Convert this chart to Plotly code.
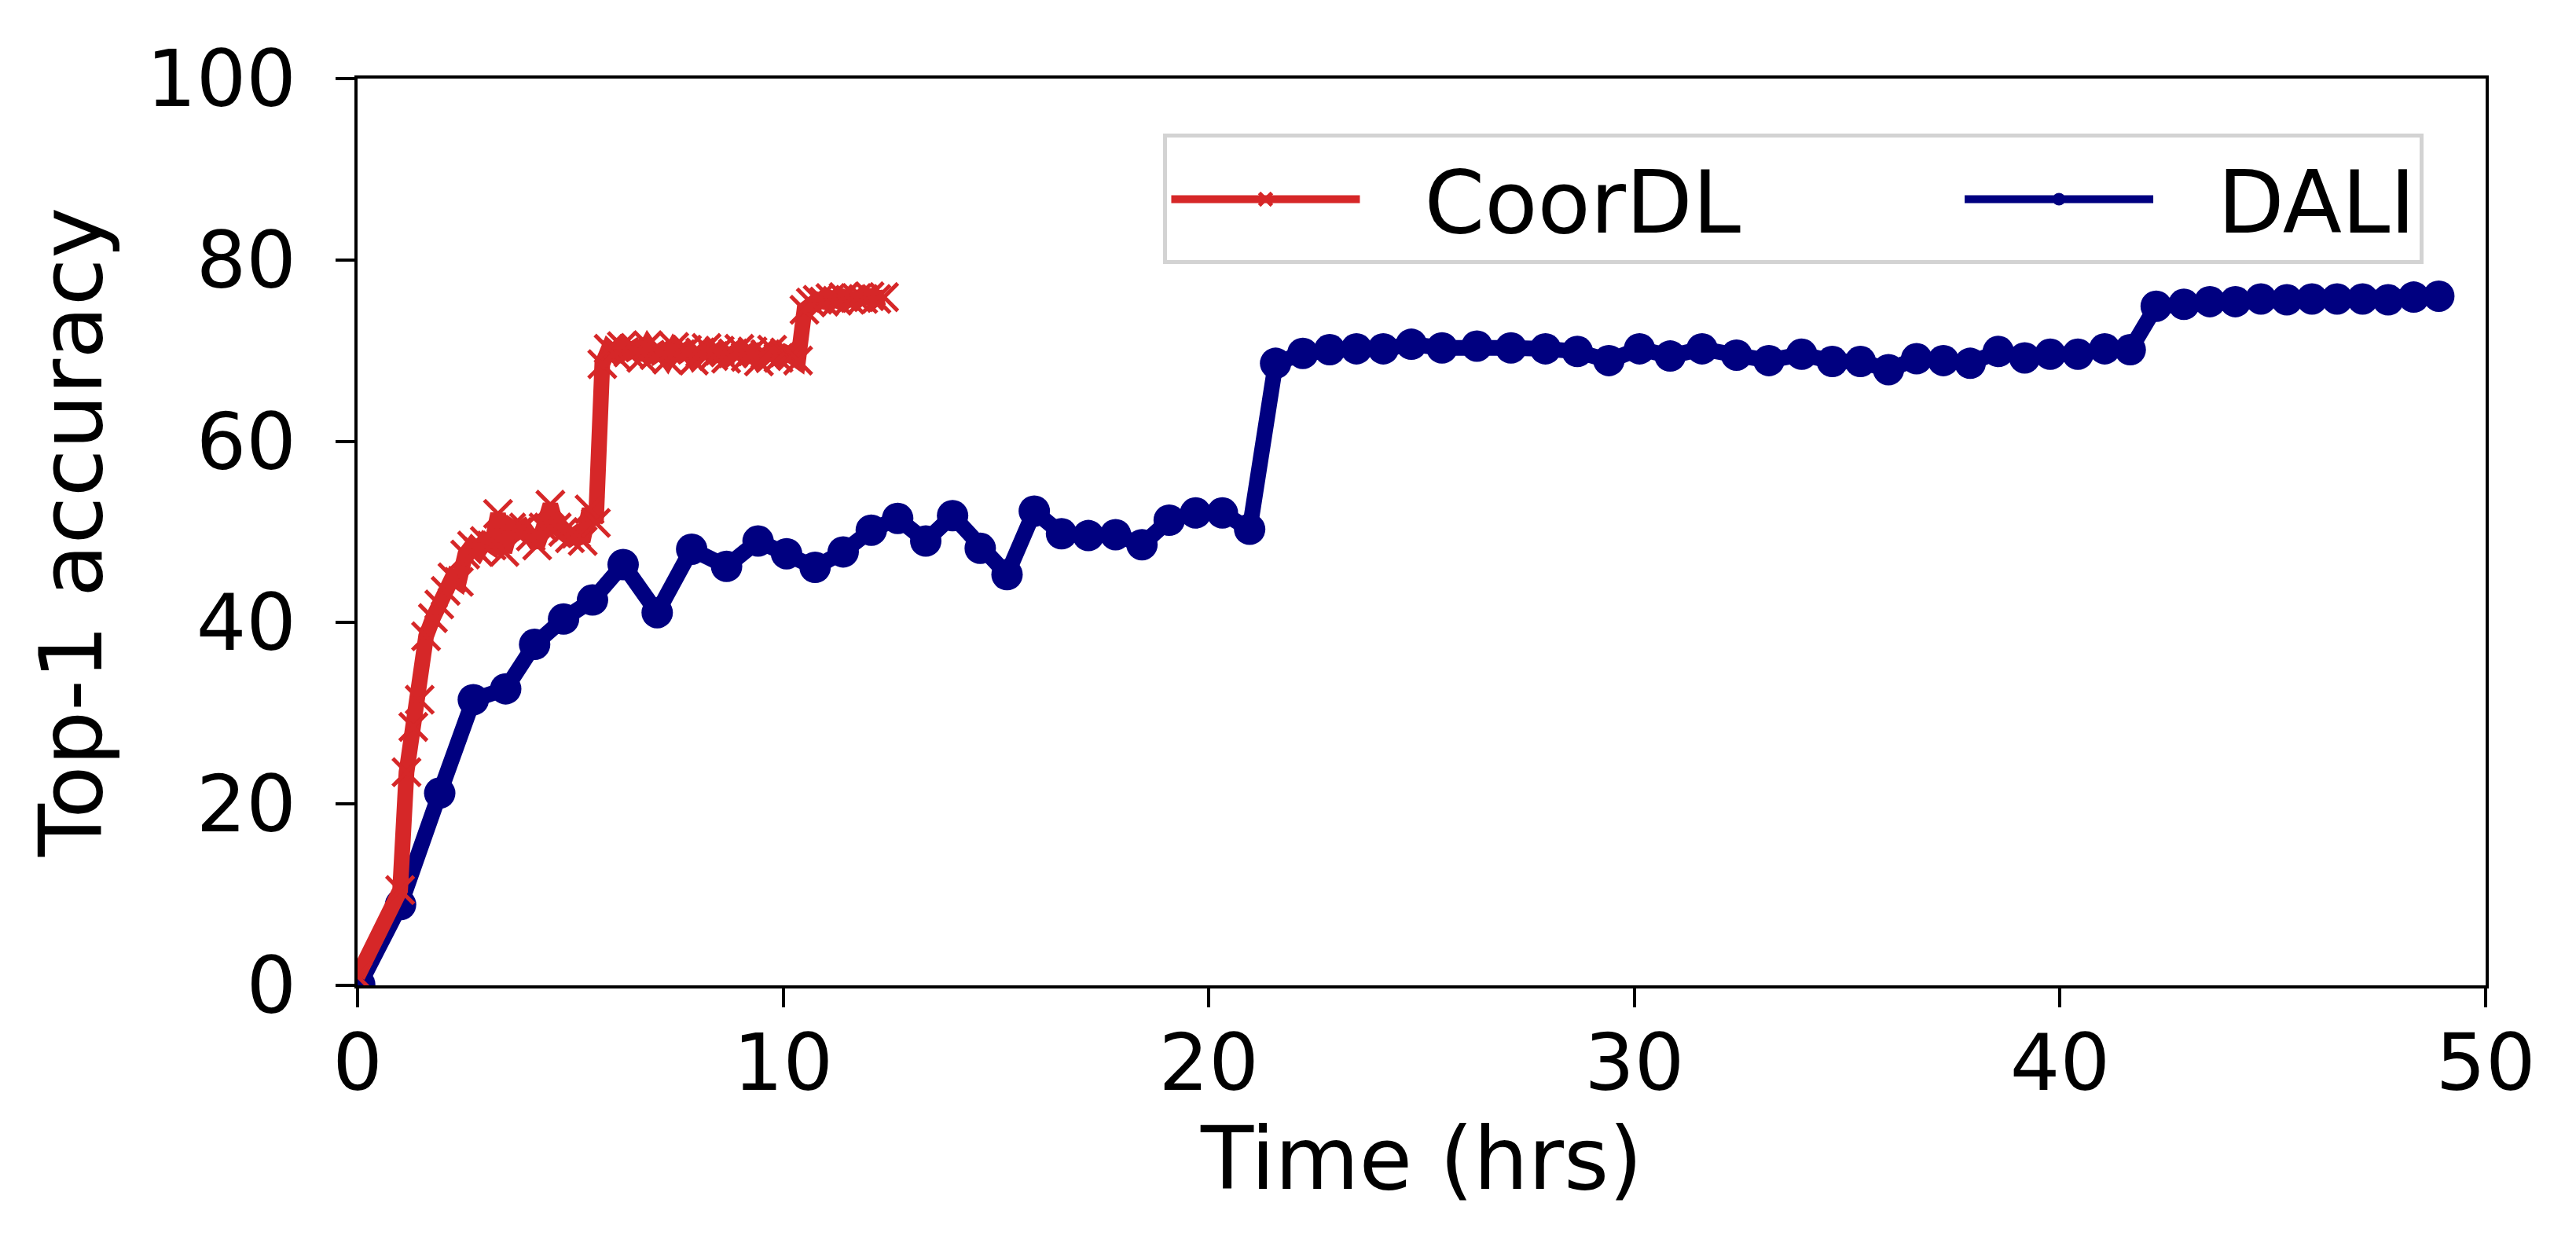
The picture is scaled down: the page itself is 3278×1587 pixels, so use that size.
import plotly.graph_objects as go

# CoorDL: time (hrs) and top-1 accuracy per epoch
coordl_time = [0.0, 1.0, 1.15, 1.31, 1.46, 1.61, 1.77, 1.92, 2.07, 2.23, 2.38,
               2.53, 2.69, 2.84, 2.99, 3.15, 3.3, 3.45, 3.61, 3.76, 3.91,
               4.07, 4.22, 4.37, 4.53, 4.68, 4.83, 4.99, 5.14, 5.29, 5.45, 5.6,
               5.75, 5.9, 6.06, 6.21, 6.36, 6.52, 6.67, 6.82, 6.98, 7.13,
               7.28, 7.44, 7.59, 7.74, 7.9, 8.05, 8.2, 8.36, 8.51, 8.66,
               8.82, 8.97, 9.12, 9.28, 9.43, 9.58, 9.74, 9.89, 10.04, 10.2,
               10.35, 10.5, 10.65, 10.81, 10.96, 11.11, 11.27, 11.42, 11.57,
               11.73, 11.88, 12.03, 12.19, 12.37]
coordl_acc = [1.0, 10.5, 23.5, 28.5, 31.5, 38.5, 40.5, 42.0, 43.5, 45.0, 44.5,
              47.5, 48.5, 47.8, 49.0, 48.5, 52.0, 47.8, 50.5, 50.0, 50.5,
              49.5, 48.5, 50.5, 53.0, 50.5, 50.0, 49.3, 49.8, 49.0, 52.5, 51.0,
              68.5, 70.2, 69.5, 70.5, 69.8, 70.3, 69.2, 70.6, 69.5, 70.0,
              69.0, 70.4, 69.6, 70.1, 68.9, 69.8, 70.3, 69.4, 70.0, 69.1,
              69.7, 70.2, 69.3, 69.9, 68.8, 69.6, 70.1, 69.2, 69.8, 69.4,
              68.9, 74.5, 75.3, 75.6, 75.4, 75.8, 75.5, 75.9, 75.6,
              75.8, 75.7, 76.0, 75.7, 75.9]

# DALI: time (hrs) and top-1 accuracy per epoch
dali_time = [0.05, 1.01, 1.93, 2.72, 3.48, 4.16, 4.84, 5.52, 6.24, 7.04,
             7.85, 8.67, 9.41, 10.08, 10.75, 11.41, 12.07, 12.69, 13.35, 13.98,
             14.63, 15.26, 15.9, 16.54, 17.17, 17.81, 18.43, 19.07, 19.69, 20.32,
             20.96, 21.57, 22.21, 22.84, 23.47, 24.1, 24.76, 25.48, 26.3, 27.1,
             27.91, 28.66, 29.4, 30.12, 30.84, 31.59, 32.4, 33.16, 33.93, 34.65,
             35.31, 35.97, 36.63, 37.26, 37.89, 38.55, 39.17, 39.77, 40.42, 41.05,
             41.65, 42.26, 42.91, 43.52, 44.12, 44.72, 45.33, 45.92, 46.51, 47.11,
             47.71, 48.31, 48.9]
dali_acc = [0.1, 8.9, 21.2, 31.5, 32.7, 37.6, 40.4, 42.5, 46.4, 41.1,
            48.1, 46.2, 49.0, 47.6, 46.1, 47.8, 50.2, 51.5, 49.0, 51.8,
            48.2, 45.3, 52.3, 49.8, 49.6, 49.7, 48.6, 51.3, 52.1, 52.1,
            50.3, 68.6, 69.7, 70.1, 70.2, 70.2, 70.7, 70.3, 70.5, 70.3,
            70.2, 69.9, 68.9, 70.2, 69.4, 70.2, 69.5, 68.9, 69.6, 68.8,
            68.8, 67.9, 69.1, 68.9, 68.6, 69.9, 69.2, 69.6, 69.6, 70.2,
            70.1, 74.9, 75.1, 75.4, 75.4, 75.7, 75.6, 75.7, 75.7, 75.7,
            75.6, 75.9, 76.0]

x_ticks = [0, 10, 20, 30, 40, 50]
y_ticks = [0, 20, 40, 60, 80, 100]

FONT = "DejaVu Sans"
FS = 110       # titles / legend
TICK_FS = 100  # tick labels
SP = '\u2002'  # en space, used to pad legend entries
THIN = '\u2009'

fig = go.Figure()

# DALI goes first so CoorDL is drawn on top, legend order reversed below
fig.add_trace(go.Scatter(
    x=dali_time, y=dali_acc,
    mode='lines+markers',
    name=SP + THIN + 'DALI',
    line=dict(color='#000080', width=20),
    marker=dict(symbol='circle', size=40, color='#000080'),
))
fig.add_trace(go.Scatter(
    x=coordl_time, y=coordl_acc,
    mode='lines+markers',
    name=SP + THIN + 'CoorDL' + SP * 5,
    line=dict(color='#d62728', width=20),
    marker=dict(symbol='x-thin', size=35, color='#d62728',
                line=dict(color='#d62728', width=5)),
))

axis_common = dict(
    showline=True, linecolor='black', linewidth=4, mirror=True,
    ticks='outside', ticklen=24, tickwidth=4, tickcolor='black',
    tickfont=dict(family=FONT, size=TICK_FS, color='black'),
    showgrid=False, zeroline=False,
)

fig.update_layout(
    width=3278, height=1587, autosize=False,
    margin=dict(l=447, r=123, t=92, b=341, pad=0),
    plot_bgcolor='white', paper_bgcolor='white',
    font=dict(family=FONT, size=FS, color='black'),
    xaxis=dict(range=[0, 50], tickvals=x_ticks, ticklabelstandoff=-15,
               title=dict(text='Time (hrs)', font=dict(family=FONT, size=FS), standoff=25),
               **axis_common),
    yaxis=dict(range=[0, 100], tickvals=y_ticks, ticklabelstandoff=30,
               title=dict(text='Top-1 accuracy', font=dict(family=FONT, size=FS), standoff=21),
               **axis_common),
    showlegend=True,
    legend=dict(
        orientation='h', traceorder='reversed',
        x=0.971, xanchor='right', y=0.867, yanchor='middle',
        bgcolor='white', bordercolor='#d3d3d3', borderwidth=5,
        font=dict(family=FONT, size=FS, color='black'),
        itemwidth=240,
    ),
)

fig.write_html("out.html")
